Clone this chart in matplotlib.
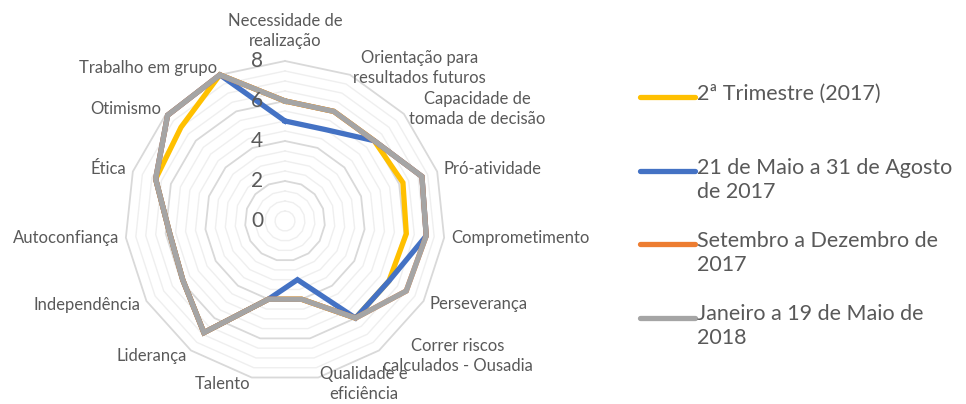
import numpy as np
import matplotlib
matplotlib.use("Agg")
import matplotlib.pyplot as plt
from matplotlib.lines import Line2D

plt.rcParams['font.family'] = ['Lato', 'DejaVu Sans']

categories = ["Necessidade de\nrealização", "Orientação para\nresultados futuros",
              "Capacidade de\ntomada de decisão", "Pró-atividade", "Comprometimento",
              "Perseverança", "Correr riscos\ncalculados - Ousadia", "Qualidade e\neficiência",
              "Talento", "Liderança", "Independência", "Autoconfiança", "Ética",
              "Otimismo", "Trabalho em grupo"]

series_names = ["2ª Trimestre (2017)", "21 de Maio a 31 de Agosto\nde 2017",
                "Setembro a Dezembro de\n2017", "Janeiro a 19 de Maio de\n2018"]
trim_2017 = [6, 6, 6, 6.2, 6.1, 6, 6, 4, 4, 6.9, 5.9, 5.8, 6.8, 7, 8]
maio_ago_2017 = [5, 5, 6, 7.2, 7.1, 6, 6, 3, 4, 6.9, 5.9, 5.8, 6.8, 7.9, 8]
set_dez_2017 = [6, 6, 6, 7.2, 7.1, 7, 6, 4, 4, 6.9, 5.9, 5.8, 6.8, 7.9, 8]
jan_mai_2018 = [6, 6, 6, 7.2, 7.1, 7, 6, 4, 4, 6.9, 5.9, 5.8, 6.8, 7.9, 8]
colors = ["#FFC000", "#4472C4", "#ED7D31", "#A5A5A5"]

r_ticks = [0, 2, 4, 6, 8]
text_col = "#595959"

W, H = 966, 404
fig = plt.figure(figsize=(W / 100, H / 100), dpi=100)
cx, cy, R = 285, 221, 160
ax = fig.add_axes([(cx - R) / W, (H - cy - R) / H, 2 * R / W, 2 * R / H], projection='polar')
ax.set_theta_zero_location('N')
ax.set_theta_direction(-1)
ax.set_ylim(0, 8)
ax.grid(False)
ax.spines['polar'].set_visible(False)
ax.set_xticks([])
ax.set_yticks([])
ax.patch.set_alpha(0)

n = len(categories)
theta = np.arange(n) * 2 * np.pi / n
theta_c = np.append(theta, theta[0])

# polygon gridlines (minor every 0.5, major every 2)
for lev in np.arange(0.5, 8.01, 0.5):
    major = lev % 2 == 0
    ax.plot(theta_c, [lev] * (n + 1), color="#D9D9D9" if major else "#EFEFEF",
            lw=1.3 if major else 1.0, zorder=1, clip_on=False)

for vals, c in zip([trim_2017, maio_ago_2017, set_dez_2017, jan_mai_2018], colors):
    v = np.append(vals, vals[0])
    ax.plot(theta_c, v, color=c, lw=3.8, zorder=3, clip_on=False, solid_joinstyle='miter')

for t in r_ticks:
    ax.annotate(str(t), (0, t), xytext=(-20, 0), textcoords='offset points',
                ha='center', va='center', fontsize=15, color=text_col)

for th, lab in zip(theta, categories):
    s = np.sin(th)
    if abs(s) < 0.05:
        ha, va, rr = 'center', 'bottom', 8.6
    else:
        ha, va, rr = ('left' if s > 0 else 'right'), 'center', 8.35
    ax.text(th, rr, lab, ha=ha, va=va, multialignment='center',
            fontsize=12, color=text_col, linespacing=1.3)

# legend
for i, (name, c) in enumerate(zip(series_names, colors)):
    y = 1 - (97 + i * 73.5) / H
    fig.add_artist(Line2D([640 / W, 695 / W], [y, y], color=c, lw=3.8,
                          solid_capstyle='round', transform=fig.transFigure))
    fig.text(697 / W, y + 13 / H, name, ha='left', va='top', fontsize=15.5,
             color=text_col, linespacing=1.25)

fig.savefig("out.png", dpi=100)
